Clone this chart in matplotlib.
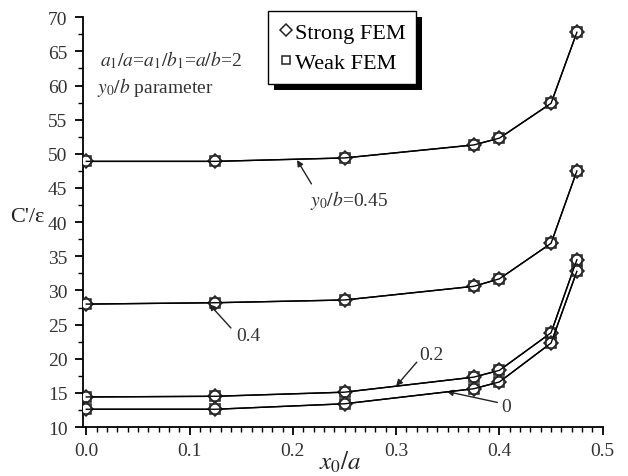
import matplotlib
matplotlib.use("Agg")
import matplotlib.pyplot as plt
from matplotlib.patches import Rectangle
from matplotlib.lines import Line2D
from matplotlib.ticker import MultipleLocator

plt.rcParams['font.family'] = ['Liberation Serif', 'DejaVu Serif']
plt.rcParams['mathtext.fontset'] = 'stix'

# Data
x_over_a = [0.0, 0.125, 0.25, 0.375, 0.4, 0.45, 0.475]
params = ['0.45', '0.4', '0.2', '0']
strong = {
    '0.45': [48.9, 48.9, 49.4, 51.3, 52.3, 57.4, 67.8],
    '0.4':  [28.0, 28.2, 28.6, 30.6, 31.7, 36.9, 47.5],
    '0.2':  [14.4, 14.5, 15.1, 17.3, 18.3, 23.8, 34.5],
    '0':    [12.6, 12.6, 13.4, 15.6, 16.6, 22.3, 32.8],
}
weak = {
    '0.45': [48.9, 48.9, 49.4, 51.3, 52.3, 57.4, 67.8],
    '0.4':  [28.0, 28.2, 28.6, 30.6, 31.7, 36.9, 47.5],
    '0.2':  [14.4, 14.5, 15.1, 17.3, 18.3, 23.8, 34.5],
    '0':    [12.6, 12.6, 13.4, 15.6, 16.6, 22.3, 32.8],
}
x_ticks = [0.0, 0.1, 0.2, 0.3, 0.4, 0.5]
x_tick_labels = ['0.0', '0.1', '0.2', '0.3', '0.4', '0.5']
y_ticks = [10, 15, 20, 25, 30, 35, 40, 45, 50, 55, 60, 65, 70]

fig = plt.figure(figsize=(6.28, 4.77), dpi=100)
ax = fig.add_axes([0.1317, 0.1027, 0.8280, 0.8590])

for i, p in enumerate(params):
    ax.plot(x_over_a, strong[p], color='black', lw=1.0, marker='D', ms=7,
            mfc='white', mec='#222222', mew=1.1, zorder=3)
    ax.plot(x_over_a, weak[p], color='black', lw=1.0, marker='s', ms=6.5,
            mfc='none', mec='#222222', mew=1.1, zorder=4)

ax.set_xlim(-0.0035, 0.5)
ax.set_ylim(10, 70)
ax.set_xticks(x_ticks)
ax.set_xticklabels(x_tick_labels)
ax.set_yticks(y_ticks)
ax.xaxis.set_minor_locator(MultipleLocator(0.01))
ax.yaxis.set_minor_locator(MultipleLocator(2.5))
for s in ['top', 'right']:
    ax.spines[s].set_visible(False)
for s in ['left', 'bottom']:
    ax.spines[s].set_linewidth(1.3)
ax.tick_params(which='major', direction='out', length=6, width=1.3,
               labelsize=14, labelcolor='#333333', pad=5)
ax.tick_params(which='minor', direction='out', length=3.5, width=1.0)

ax.text(-0.140, 0.513, "C'/\u03b5", transform=ax.transAxes, fontsize=16,
        color='#222222', ha='left', va='center')
ax.text(0.495, -0.085, r'$x_0/a$', transform=ax.transAxes, fontsize=18,
        color='#222222', ha='center', va='center')

ax.text(0.013, 63.9, r'$a_1/a$=$a_1/b_1$=$a/b$=2', fontsize=14,
        color='#333333', va='center')
ax.text(0.010, 59.9, r'$y_0/b$ parameter', fontsize=14,
        color='#333333', va='center')

arrow = dict(arrowstyle='-|>', color='#222222', lw=1.0,
             mutation_scale=9, shrinkA=0, shrinkB=0)
ax.annotate('', xy=(0.204, 49.1), xytext=(0.218, 45.6), arrowprops=arrow)
ax.text(0.217, 43.3, r'$y_0/b$=0.45', fontsize=14, color='#333333', va='center')
ax.annotate('', xy=(0.119, 28.0), xytext=(0.140, 24.5), arrowprops=arrow)
ax.text(0.145, 23.4, '0.4', fontsize=14, color='#333333', va='center')
ax.annotate('', xy=(0.300, 16.0), xytext=(0.320, 19.5), arrowprops=arrow)
ax.text(0.322, 20.6, '0.2', fontsize=14, color='#333333', va='center')
ax.annotate('', xy=(0.349, 15.2), xytext=(0.398, 13.6), arrowprops=arrow)
ax.text(0.402, 13.0, '0', fontsize=14, color='#333333', va='center')

handles = [Line2D([], [], ls='none', marker='D', ms=6, mfc='white',
                  mec='#222222', mew=1.1),
           Line2D([], [], ls='none', marker='s', ms=5.5, mfc='white',
                  mec='#222222', mew=1.1)]
leg = ax.legend(handles, ['Strong FEM', 'Weak FEM'], loc='upper left',
                bbox_to_anchor=(268 / 628, 1 - 12 / 477),
                bbox_transform=fig.transFigure, borderaxespad=0,
                fontsize=16, frameon=True, fancybox=False, framealpha=1,
                edgecolor='black', handlelength=0.6, handletextpad=0.1,
                labelspacing=0.45, borderpad=0.5)
leg.get_frame().set_linewidth(1.0)
leg.set_zorder(6)

fig.canvas.draw()
bb = leg.get_window_extent()
inv = fig.transFigure.inverted()
(x0, y0), (x1, y1) = inv.transform([[bb.x0 + 6, bb.y0 - 6], [bb.x1 + 6, bb.y1 - 6]])
shadow = Rectangle((x0, y0), x1 - x0, y1 - y0, transform=fig.transFigure,
                   facecolor='black', edgecolor='none', zorder=5.5, clip_on=False)
ax.add_artist(shadow)

fig.savefig('out.png', dpi=100)
